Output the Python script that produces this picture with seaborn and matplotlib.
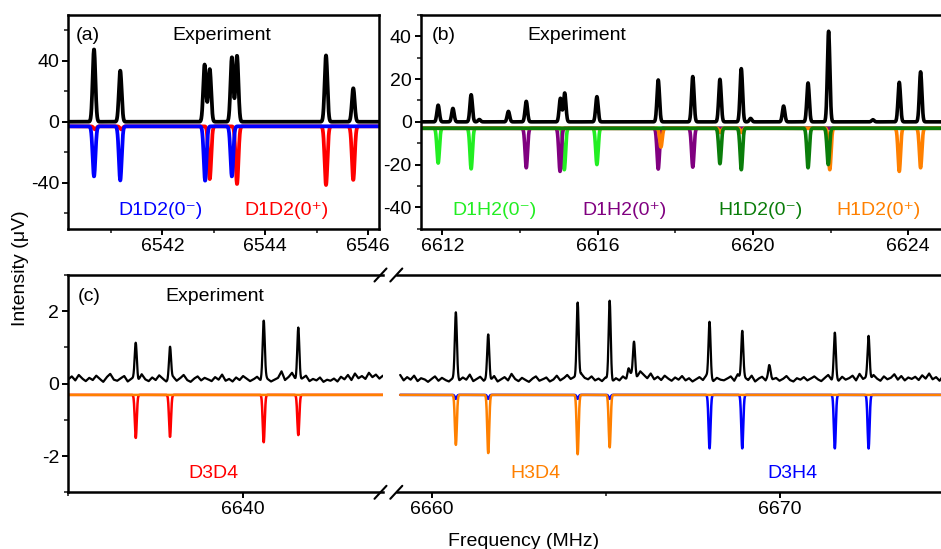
import numpy as np
import matplotlib
matplotlib.use("Agg")
import matplotlib.pyplot as plt
from matplotlib.ticker import MultipleLocator
from matplotlib.lines import Line2D
import seaborn as sns

# ------------------------------------------------------------------ data
# Panel (a): experiment peaks (MHz, µV)
a_exp_pos = [6540.67, 6541.18, 6542.82, 6542.92, 6543.35, 6543.45, 6545.18, 6545.71]
a_exp_h = [47.5, 33.5, 37.5, 34.5, 42.3, 43.3, 43.5, 22.0]
a_sim_base = -3.0
a_d1d2m_pos = [6540.67, 6541.18, 6542.83, 6543.35]
a_d1d2m_min = [-35.9, -38.5, -38.7, -35.9]
a_d1d2p_pos = [6540.69, 6541.20, 6542.92, 6543.45, 6545.18, 6545.71]
a_d1d2p_min = [-5.0, -5.0, -37.6, -40.9, -41.5, -38.2]

# Panel (b)
b_exp_pos = [6611.89, 6612.27, 6612.74, 6612.95, 6613.70, 6614.16, 6615.04, 6615.15,
             6615.98, 6617.56, 6618.45, 6619.15, 6619.70, 6619.94, 6620.79, 6621.42,
             6621.95, 6623.09, 6623.77, 6624.32]
b_exp_h = [7.8, 6.3, 12.7, 1.1, 4.9, 9.6, 11.0, 13.5,
           11.8, 19.6, 21.2, 19.9, 24.9, 1.6, 7.4, 18.2,
           42.4, 1.0, 18.5, 23.4]
b_sim_base = -3.0
b_d1h2m_pos = [6611.89, 6612.74, 6615.14, 6615.98]
b_d1h2m_min = [-19.3, -22.0, -22.4, -20.0]
b_d1h2p_pos = [6614.16, 6615.03, 6617.56, 6618.45]
b_d1h2p_min = [-21.5, -23.2, -22.1, -21.2]
b_h1d2m_pos = [6619.15, 6619.70, 6621.42, 6621.94]
b_h1d2m_min = [-19.6, -22.4, -21.5, -20.0]
b_h1d2p_pos = [6617.63, 6619.16, 6619.71, 6621.98, 6623.77, 6624.32]
b_h1d2p_min = [-11.8, -5.0, -5.0, -22.4, -23.2, -21.5]

# Panel (c), left part: baseline wiggle read every 0.1 MHz from 6635.0
c1_noise_start, c1_noise_step = 6635.0, 0.1
c1_noise = [0.12, 0.20, 0.09, 0.24, 0.14, 0.07, 0.16, 0.10, 0.22, 0.13,
            0.05, 0.18, 0.27, 0.11, 0.08, 0.15, 0.21, 0.06, 0.13, 0.19,
            0.09, 0.26, 0.12, 0.07, 0.17, 0.10, 0.23, 0.14, 0.06, 0.11,
            0.19, 0.08, 0.15, 0.24, 0.10, 0.05, 0.14, 0.20, 0.09, 0.16,
            0.12, 0.07, 0.18, 0.11, 0.25, 0.08, 0.13, 0.06, 0.17, 0.10,
            0.21, 0.14, 0.07, 0.12, 0.19, 0.09, 0.27, 0.13, 0.06, 0.11,
            0.16, 0.34, 0.10, 0.18, 0.30, 0.12, 0.08, 0.15, 0.22, 0.07,
            0.13, 0.09, 0.17, 0.05, 0.11, 0.08, 0.14, 0.06, 0.19, 0.12,
            0.24, 0.10, 0.28, 0.15, 0.21, 0.13, 0.30, 0.18, 0.25, 0.14,
            0.22]
c1_exp_pos = [6636.93, 6637.91, 6640.59, 6641.58]
c1_exp_h = [1.13, 1.02, 1.74, 1.55]
c_sim_base = -0.31
c1_d3d4_pos = [6636.93, 6637.91, 6640.59, 6641.58]
c1_d3d4_min = [-1.50, -1.47, -1.62, -1.42]

# Panel (c), right part: baseline wiggle read every 0.1 MHz from 6659.0
c2_noise_start, c2_noise_step = 6659.0, 0.1
c2_noise = [0.14, 0.24, 0.09, 0.18, 0.11, 0.22, 0.07, 0.15, 0.12, 0.05,
            0.13, 0.20, 0.08, 0.16, 0.10, 0.06, 0.14, 0.23, 0.09, 0.17,
            0.11, 0.25, 0.07, 0.13, 0.19, 0.08, 0.15, 0.10, 0.21, 0.06,
            0.12, 0.18, 0.09, 0.27, 0.13, 0.07, 0.16, 0.10, 0.05, 0.14,
            0.20, 0.08, 0.12, 0.17, 0.06, 0.11, 0.22, 0.09, 0.15, 0.24,
            0.13, 0.18, 0.10, 0.28, 0.16, 0.12, 0.20, 0.09, 0.14, 0.07,
            0.17, 0.11, 0.06, 0.15, 0.09, 0.20, 0.12, 0.26, 0.30, 0.18,
            0.34, 0.24, 0.15, 0.28, 0.12, 0.19, 0.10, 0.22, 0.14, 0.08,
            0.17, 0.11, 0.21, 0.09, 0.15, 0.06, 0.12, 0.18, 0.10, 0.23,
            0.13, 0.07, 0.16, 0.11, 0.09, 0.14, 0.20, 0.08, 0.26, 0.12,
            0.17, 0.10, 0.22, 0.06, 0.14, 0.19, 0.09, 0.25, 0.12, 0.16,
            0.08, 0.13, 0.21, 0.10, 0.06, 0.15, 0.11, 0.18, 0.09, 0.14,
            0.20, 0.12, 0.07, 0.16, 0.24, 0.10, 0.13, 0.08, 0.19, 0.11,
            0.15, 0.22, 0.09, 0.27, 0.13, 0.18, 0.10, 0.24, 0.14, 0.08,
            0.20, 0.12, 0.16, 0.26, 0.11, 0.21, 0.09, 0.17, 0.13, 0.19,
            0.10, 0.23, 0.14, 0.28, 0.12, 0.18, 0.08, 0.21, 0.15, 0.11,
            0.19]
c2_exp_pos = [6660.70, 6661.63, 6664.20, 6665.12, 6665.66, 6665.82, 6667.99, 6668.93,
              6669.71, 6671.59, 6672.56]
c2_exp_h = [1.97, 1.36, 2.24, 2.29, 0.42, 1.16, 1.71, 1.46, 0.51, 1.41, 1.32]
c2_d3h4_pos = [6660.70, 6661.63, 6664.20, 6665.12, 6667.99, 6668.93, 6671.59, 6672.56]
c2_d3h4_min = [-0.42, -0.42, -0.42, -0.42, -1.79, -1.79, -1.79, -1.79]
c2_h3d4_pos = [6660.70, 6661.63, 6664.20, 6665.12]
c2_h3d4_min = [-1.69, -1.92, -1.95, -1.76]

# colours
BLUE, RED = "#0000ff", "#ff0000"
LGREEN, PURPLE, DGREEN, ORANGE = "#22ee22", "#800080", "#0a7d0a", "#ff8000"

# ------------------------------------------------------------------ style
sns.set_theme(style="ticks")
plt.rcParams["font.family"] = ["Liberation Sans", "DejaVu Sans"]
plt.rcParams["axes.unicode_minus"] = False

W, H = 941, 549
fig = plt.figure(figsize=(W / 100, H / 100), dpi=100)
fig.patch.set_facecolor("white")


def rect(l, r, t, b):
    return [l / W, 1 - b / H, (r - l) / W, (b - t) / H]


def fx(x, y):
    return x / W, 1 - y / H


def profile(grid, pos, vals, base, sigma):
    base_arr = np.full_like(grid, base, dtype=float) if np.isscalar(base) else base
    y = base_arr.copy()
    for p, v in zip(pos, vals):
        b0 = base if np.isscalar(base) else np.interp(p, grid, base_arr)
        y = y + (v - b0) * np.exp(-((grid - p) ** 2) / (2 * sigma ** 2))
    return y


def draw(ax, x, y, color, lw):
    sns.lineplot(x=x, y=y, ax=ax, color=color, linewidth=lw,
                 estimator=None, sort=False, legend=False)


def style_axes(ax):
    for s in ax.spines.values():
        s.set_linewidth(1.8)
        s.set_color("black")
    ax.tick_params(which="major", direction="out", length=4.5, width=1.4,
                   labelsize=14, pad=2, colors="black", top=False, right=False)
    ax.tick_params(which="minor", direction="out", length=2.8, width=1.2,
                   top=False, right=False)
    ax.set_xlabel("")
    ax.set_ylabel("")
    ax.set_facecolor("white")
    ax.grid(False)


# ------------------------------------------------------------------ panel (a)
ax_a = fig.add_axes(rect(68.3, 379, 15, 228.5))
ga = np.arange(6540.0, 6546.4, 0.004)
draw(ax_a, ga, profile(ga, a_d1d2p_pos, a_d1d2p_min, a_sim_base, 0.027), RED, 2.7)
draw(ax_a, ga, profile(ga, a_d1d2m_pos, a_d1d2m_min, a_sim_base, 0.027), BLUE, 2.7)
draw(ax_a, ga, profile(ga, a_exp_pos, a_exp_h, 0.0, 0.027), "black", 2.7)
ax_a.set_xlim(6540.17, 6546.21)
ax_a.set_ylim(-70, 70)
ax_a.xaxis.set_major_locator(MultipleLocator(2))
ax_a.xaxis.set_minor_locator(MultipleLocator(1))
ax_a.yaxis.set_major_locator(MultipleLocator(40))
ax_a.yaxis.set_minor_locator(MultipleLocator(20))
style_axes(ax_a)

# ------------------------------------------------------------------ panel (b)
ax_b = fig.add_axes(rect(420.7, 947, 15, 228.7))
gb = np.arange(6611.3, 6625.2, 0.005)
draw(ax_b, gb, profile(gb, b_d1h2m_pos, b_d1h2m_min, b_sim_base, 0.032), LGREEN, 2.6)
draw(ax_b, gb, profile(gb, b_d1h2p_pos, b_d1h2p_min, b_sim_base, 0.032), PURPLE, 2.6)
draw(ax_b, gb, profile(gb, b_h1d2p_pos, b_h1d2p_min, b_sim_base, 0.032), ORANGE, 2.6)
draw(ax_b, gb, profile(gb, b_h1d2m_pos, b_h1d2m_min, b_sim_base, 0.032), DGREEN, 2.6)
draw(ax_b, gb, profile(gb, b_exp_pos, b_exp_h, 0.0, 0.032), "black", 2.6)
ax_b.set_xlim(6611.44, 6625.0)
ax_b.set_ylim(-50, 50)
ax_b.xaxis.set_major_locator(MultipleLocator(4))
ax_b.xaxis.set_minor_locator(MultipleLocator(2))
ax_b.yaxis.set_major_locator(MultipleLocator(20))
ax_b.yaxis.set_minor_locator(MultipleLocator(10))
style_axes(ax_b)

# ------------------------------------------------------------------ panel (c)
ax_c1 = fig.add_axes(rect(68.3, 382.9, 275, 492.3))
ax_c2 = fig.add_axes(rect(396.7, 953.5, 275, 492.3))

n1x = c1_noise_start + c1_noise_step * np.arange(len(c1_noise))
g1 = np.arange(n1x[0], n1x[-1] + 1e-9, 0.004)
base1 = np.interp(g1, n1x, c1_noise)
draw(ax_c1, g1, profile(g1, c1_d3d4_pos, c1_d3d4_min, c_sim_base, 0.028), RED, 1.8)
draw(ax_c1, g1, np.full_like(g1, c_sim_base), ORANGE, 1.8)
draw(ax_c1, g1, profile(g1, c1_exp_pos, c1_exp_h, base1, 0.03), "black", 1.6)

n2x = c2_noise_start + c2_noise_step * np.arange(len(c2_noise))
g2 = np.arange(n2x[0] + 0.1, n2x[-1] + 1e-9, 0.004)
base2 = np.interp(g2, n2x, c2_noise)
draw(ax_c2, g2, profile(g2, c2_d3h4_pos, c2_d3h4_min, c_sim_base, 0.028), BLUE, 1.8)
draw(ax_c2, g2, profile(g2, c2_h3d4_pos, c2_h3d4_min, c_sim_base, 0.028), ORANGE, 1.8)
draw(ax_c2, g2, profile(g2, c2_exp_pos, c2_exp_h, base2, 0.03), "black", 1.6)

for ax in (ax_c1, ax_c2):
    ax.set_ylim(-3, 3)
    ax.xaxis.set_major_locator(MultipleLocator(10))
    ax.xaxis.set_minor_locator(MultipleLocator(5))
    ax.yaxis.set_major_locator(MultipleLocator(2))
    ax.yaxis.set_minor_locator(MultipleLocator(1))
    style_axes(ax)
ax_c1.set_xlim(6635, 6644)
ax_c2.set_xlim(6659, 6675)
ax_c1.spines["right"].set_visible(False)
ax_c2.spines["left"].set_visible(False)
ax_c2.tick_params(axis="y", which="both", left=False, labelleft=False)

# break marks
for yb in (275, 492.3):
    for xc in (380.5, 396.3):
        x0, y0 = fx(xc - 6, yb + 6.5)
        x1, y1 = fx(xc + 6, yb - 6.5)
        fig.add_artist(Line2D([x0, x1], [y0, y1], color="black", lw=1.5))


# ------------------------------------------------------------------ texts
def ftext(x, y, s, color="black", ha="center", va="baseline", **kw):
    fx0, fy0 = fx(x, y)
    fig.text(fx0, fy0, s, color=color, ha=ha, va=va, fontsize=14, **kw)


SUP_M, SUP_P = "\u207b", "\u207a"
ftext(88, 39.5, "(a)")
ftext(221.7, 39.5, "Experiment")
ftext(160, 215, "D1D2(0" + SUP_M + ")", BLUE)
ftext(286, 215, "D1D2(0" + SUP_P + ")", RED)

ftext(443.7, 39.5, "(b)")
ftext(576.5, 39.5, "Experiment")
ftext(494.3, 215, "D1H2(0" + SUP_M + ")", LGREEN)
ftext(624.2, 215, "D1H2(0" + SUP_P + ")", PURPLE)
ftext(760.7, 215, "H1D2(0" + SUP_M + ")", DGREEN)
ftext(878.5, 215, "H1D2(0" + SUP_P + ")", ORANGE)

ftext(88.7, 300.7, "(c)")
ftext(215, 300.7, "Experiment")
ftext(213.8, 477.5, "D3D4", RED)
ftext(535.2, 477.5, "H3D4", ORANGE)
ftext(792.2, 477.5, "D3H4", BLUE)

ftext(20.5, 268, "Intensity (\u03bcV)", va="center", rotation=90, rotation_mode="anchor")
ftext(524, 546.5, "Frequency (MHz)")

fig.savefig("out.png", dpi=100, facecolor="white")
